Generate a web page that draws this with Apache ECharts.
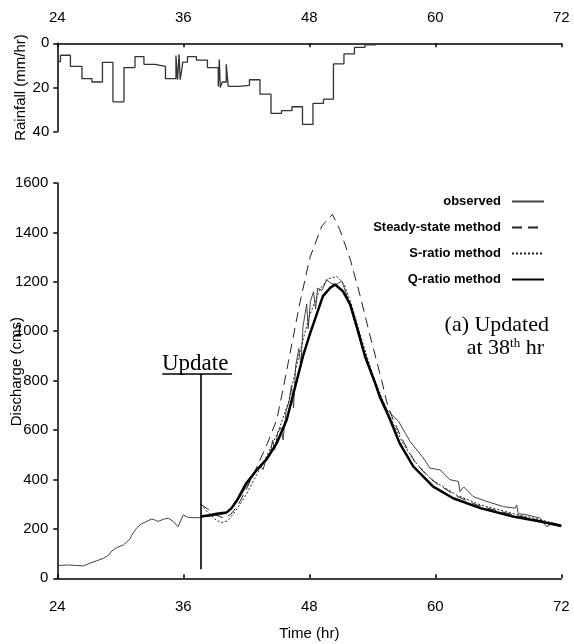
<!DOCTYPE html>
<html>
<head>
<meta charset="utf-8">
<script src="https://cdn.jsdelivr.net/npm/echarts@6/dist/echarts.min.js"></script>
<style>
  html, body { margin: 0; padding: 0; background: #fff; }
  #chart { width: 574px; height: 644px; }
</style>
</head>
<body>
<div id="chart"></div>
<script>
// rainfall hyetograph (step, mm/hr)
const rainHours = [24, 24.3, 25.25, 26.35, 27.3, 28.3, 29.3, 30.35, 31.4, 32.25, 33.3, 34.3, 35.3, 35.45, 35.6, 35.7, 35.85, 35.95, 36.4, 37.25, 38.3, 39.33, 39.43, 39.52, 39.71, 40.09, 40.28, 41.3, 42.3, 43.3, 44.35, 45.35, 46.35, 47.35, 48.35, 49.35, 50.3, 51.3, 52.3, 53.3, 54.3];
const rainValues = [8.3, 5.4, 10.4, 16, 17.5, 8.6, 26.5, 11, 6, 9.5, 10.4, 16, 5.5, 16.5, 5, 16.5, 12, 8.5, 6, 7.6, 11, 19.5, 7.3, 20, 17.5, 9.5, 19.5, 19, 16.5, 23, 31.7, 30.5, 28.7, 36.7, 27.2, 25.3, 9.3, 4.8, 1.8, 0.7, 0];

// discharge (cms)
const obsHours = [24, 24.9, 25.8, 26.5, 27.1, 27.75, 28.4, 28.9, 29.2, 29.65, 30.3, 30.9, 31.2, 31.55, 32, 32.5, 32.97, 33.3, 33.6, 34.1, 34.6, 35.05, 35.5, 36, 36.5, 37.5, 38, 38.7, 39.3, 40, 40.5, 41, 41.5, 42, 42.5, 43, 43.4, 43.6, 43.9, 44.3, 44.5, 44.7, 45, 45.3, 45.5, 45.8, 46.1, 46.3, 46.5, 46.7, 47, 47.2, 47.4, 47.6, 47.75, 47.9, 48.1, 48.4, 48.6, 48.8, 49.2, 49.66, 50, 50.5, 51.1, 51.5, 52, 52.5, 53, 53.4, 53.8, 54.3, 54.8, 55.4, 56.5, 57.6, 58.85, 59.5, 60.45, 61.4, 62.2, 62.35, 62.7, 63.6, 64.9, 66.5, 67.6, 67.75, 67.9, 68.7, 70, 70.6, 71.2, 72];
const obsValues = [51, 54, 52, 50, 61, 71, 81, 94, 111, 124, 135, 158, 182, 203, 220, 230, 240, 236, 230, 239, 243, 230, 209, 257, 246, 245, 250, 252, 256, 262, 278, 305, 335, 372, 405, 435, 455, 440, 485, 505, 560, 520, 590, 610, 560, 680, 720, 780, 690, 860, 930, 860, 1020, 1070, 1110, 1010, 1120, 1160, 1090, 1175, 1165, 1210, 1195, 1188, 1203, 1155, 1085, 1010, 940, 900, 845, 790, 735, 682, 635, 554, 487, 446, 439, 399, 392, 351, 370, 331, 311, 290, 284, 297, 262, 257, 243, 209, 223, 214];

const steadyHours = [37.66, 38.2, 39, 39.8, 40.5, 41.2, 42, 43, 44, 44.9, 45.5, 46.3, 47.1, 48.07, 49.2, 50.2, 50.9, 51.9, 52.85, 53.8, 54.9, 55.4, 56, 57, 58, 59, 60, 62, 64, 66, 68, 70, 72];
const steadyValues = [300, 284, 258, 245, 258, 295, 360, 450, 545, 642, 765, 940, 1115, 1300, 1426, 1473, 1412, 1291, 1142, 980, 800, 710, 640, 550, 475, 425, 388, 333, 296, 272, 252, 233, 216];

const sratioHours = [37.66, 38.3, 39, 39.6, 40.2, 40.8, 41.5, 42, 43, 44, 45, 46, 47, 48, 49, 49.8, 50.6, 51.3, 52, 53, 54, 55, 56, 57, 58, 59.65, 62, 64.3, 67.4, 70, 72];
const sratioValues = [300, 268, 240, 225, 232, 262, 305, 340, 420, 500, 590, 710, 900, 1060, 1170, 1212, 1222, 1192, 1110, 965, 830, 720, 625, 540, 475, 399, 338, 297, 262, 237, 215];

const qratioHours = [37.66, 38.5, 39.2, 40.1, 40.6, 41.1, 42, 43, 43.9, 44.9, 45.85, 46.5, 47.4, 48.07, 49.3, 50, 50.45, 51.2, 51.9, 52.6, 53.3, 54.26, 54.7, 55.7, 56.6, 57.9, 59.8, 61.7, 64.3, 67.4, 70, 72];
const qratioValues = [250, 255, 261, 266, 284, 315, 385, 439, 480, 547, 642, 750, 899, 990, 1142, 1176, 1189, 1162, 1108, 1007, 899, 791, 736, 642, 547, 453, 371, 324, 284, 250, 230, 212];

// update marker
const updateHour = 37.66;
const updateLineLow = 37;
const updateLineTop = 827;
const updateBar = [34, 40.65];

const zip = (xs, ys) => xs.map((x, i) => [x, ys[i]]);

const sans = 'Liberation Sans, Arial, sans-serif';
const serif = 'Liberation Serif, Times New Roman, serif';
const labelStyle = { fontFamily: sans, fontSize: 15, color: '#000' };
const plain = v => String(v);

const chart = echarts.init(document.getElementById('chart'));
chart.setOption({
  animation: false,
  grid: [
    { left: 57.3, right: 12.7, top: 43.3, height: 88.4, containLabel: false, outerBoundsMode: 'none' },
    { left: 57.3, right: 12.7, top: 183, bottom: 65.7, containLabel: false, outerBoundsMode: 'none' }
  ],
  xAxis: [
    {
      gridIndex: 0, type: 'value', position: 'top', min: 24, max: 72, interval: 12,
      axisLine: { lineStyle: { color: '#000', width: 1.5 } },
      axisTick: { inside: true, length: 4, lineStyle: { color: '#000', width: 1.5 } },
      axisLabel: Object.assign({ margin: 18, formatter: plain }, labelStyle),
      splitLine: { show: false }
    },
    {
      gridIndex: 1, type: 'value', min: 24, max: 72, interval: 12,
      name: 'Time (hr)', nameLocation: 'middle', nameGap: 48, nameMoveOverlap: false,
      nameTextStyle: { fontFamily: sans, fontSize: 15, color: '#000' },
      axisLine: { lineStyle: { color: '#000', width: 1.5 } },
      axisTick: { inside: true, length: 4, lineStyle: { color: '#000', width: 1.5 } },
      axisLabel: Object.assign({ margin: 21, formatter: plain }, labelStyle),
      splitLine: { show: false }
    }
  ],
  yAxis: [
    {
      gridIndex: 0, type: 'value', inverse: true, min: 0, max: 40, interval: 20,
      name: 'Rainfall (mm/hr)', nameLocation: 'middle', nameGap: 29, nameRotate: 90, nameMoveOverlap: false,
      nameTextStyle: { fontFamily: sans, fontSize: 15, color: '#000' },
      axisLine: { show: true, lineStyle: { color: '#000', width: 1.5 } },
      axisTick: { show: true, length: 4, lineStyle: { color: '#000', width: 1.5 } },
      axisLabel: Object.assign({ margin: 8, formatter: plain }, labelStyle),
      splitLine: { show: false }
    },
    {
      gridIndex: 1, type: 'value', min: 0, max: 1600, interval: 200,
      name: 'Discharge (cms)', nameLocation: 'middle', nameGap: 33, nameRotate: 90, nameMoveOverlap: false,
      nameTextStyle: { fontFamily: sans, fontSize: 15, color: '#000', padding: [0, 0, 0, 18] },
      axisLine: { show: true, lineStyle: { color: '#000', width: 1.5 } },
      axisTick: { show: true, length: 4, lineStyle: { color: '#000', width: 1.5 } },
      axisLabel: Object.assign({ margin: 9, formatter: plain }, labelStyle),
      splitLine: { show: false }
    }
  ],
  legend: {
    right: 24, top: 190, orient: 'vertical', align: 'right',
    itemWidth: 32, itemHeight: 14, itemGap: 13,
    selectedMode: false,
    itemStyle: { opacity: 0 },
    textStyle: { fontFamily: sans, fontSize: 13, fontWeight: 'bold', color: '#000', padding: [0, 6, 0, 0] },
    data: ['observed', 'Steady-state method', 'S-ratio method', 'Q-ratio method']
  },
  series: [
    {
      name: 'rainfall', type: 'line', xAxisIndex: 0, yAxisIndex: 0, step: 'end',
      showSymbol: false, symbol: 'none',
      lineStyle: { color: '#333', width: 1.3 },
      data: zip(rainHours, rainValues)
    },
    {
      name: 'observed', type: 'line', xAxisIndex: 1, yAxisIndex: 1,
      showSymbol: false, symbol: 'none', color: '#444',
      lineStyle: { color: '#444', width: 1 },
      data: zip(obsHours, obsValues),
      markLine: {
        silent: true, symbol: 'none', label: { show: false },
        lineStyle: { color: '#000', width: 1.6, type: 'solid' },
        data: [
          [{ coord: [updateHour, updateLineLow] }, { coord: [updateHour, updateLineTop] }],
          [{ coord: [updateBar[0], updateLineTop] }, { coord: [updateBar[1], updateLineTop] }]
        ]
      }
    },
    {
      name: 'Steady-state method', type: 'line', xAxisIndex: 1, yAxisIndex: 1,
      showSymbol: false, symbol: 'none', color: '#222',
      lineStyle: { color: '#222', width: 1, type: [10, 6] },
      data: zip(steadyHours, steadyValues)
    },
    {
      name: 'S-ratio method', type: 'line', xAxisIndex: 1, yAxisIndex: 1,
      showSymbol: false, symbol: 'none', color: '#222',
      lineStyle: { color: '#222', width: 1, type: [2, 2] },
      data: zip(sratioHours, sratioValues)
    },
    {
      name: 'Q-ratio method', type: 'line', xAxisIndex: 1, yAxisIndex: 1,
      showSymbol: false, symbol: 'none', color: '#000',
      lineStyle: { color: '#000', width: 2.5 },
      data: zip(qratioHours, qratioValues)
    }
  ],
  graphic: [
    {
      type: 'text', left: 162, top: 352,
      style: { text: 'Update', font: '23px ' + serif, fill: '#000' }
    },
    {
      type: 'text', right: 25, top: 314,
      style: { text: '(a) Updated', font: '22px ' + serif, fill: '#000' }
    },
    {
      type: 'text', right: 30, top: 337,
      style: {
        text: '{n|at 38}{s|th}{n| hr}',
        rich: {
          n: { fontFamily: serif, fontSize: 22, color: '#000' },
          s: { fontFamily: serif, fontSize: 13, color: '#000', verticalAlign: 'top', padding: [0, 0, 8, 0] }
        }
      }
    }
  ]
});
</script>
</body>
</html>
